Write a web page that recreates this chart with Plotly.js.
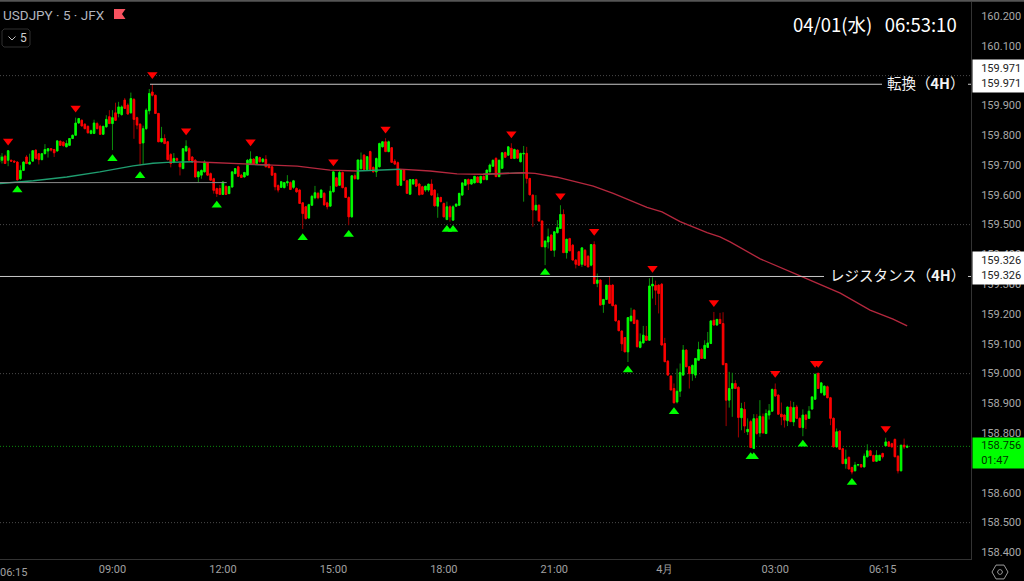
<!DOCTYPE html>
<html><head><meta charset="utf-8">
<script src="https://cdn.plot.ly/plotly-3.0.1.min.js"></script>
<style>html,body{margin:0;padding:0;background:#000;overflow:hidden}</style>
</head><body><div id="chart" style="width:1024px;height:581px"></div>
<script>
// bars: [open, high, low, close] — first bar index is -4 (05:55), 06:15 is index 0
const barsMorning = [
[159.710,159.733,159.710,159.733],[159.716,159.740,159.705,159.727],[159.730,159.735,159.705,159.705],[159.716,159.750,159.696,159.748],
[159.716,159.718,159.712,159.713],[159.713,159.716,159.708,159.710],[159.710,159.712,159.649,159.650],[159.654,159.699,159.650,159.682],
[159.682,159.712,159.682,159.710],[159.727,159.733,159.703,159.705],[159.703,159.738,159.702,159.710],[159.713,159.750,159.712,159.748],
[159.750,159.752,159.718,159.722],[159.738,159.740,159.702,159.718],[159.718,159.740,159.716,159.738],[159.738,159.770,159.736,159.752],
[159.747,159.756,159.725,159.755],[159.755,159.757,159.745,159.750],[159.752,159.754,159.727,159.741],[159.747,159.783,159.746,159.781],
[159.780,159.782,159.765,159.766],[159.777,159.779,159.762,159.765],[159.761,159.783,159.760,159.772],[159.766,159.790,159.764,159.789],
[159.789,159.802,159.787,159.800],[159.800,159.859,159.800,159.841],[159.841,159.858,159.838,159.856],[159.850,159.853,159.830,159.831],
[159.837,159.840,159.820,159.822],[159.830,159.832,159.806,159.808],[159.806,159.819,159.803,159.815],[159.806,159.852,159.805,159.841],
[159.839,159.845,159.820,159.822],[159.830,159.835,159.802,159.803],[159.803,159.830,159.803,159.830],[159.828,159.867,159.826,159.853],
[159.862,159.884,159.838,159.839],[159.839,159.884,159.750,159.859],[159.875,159.909,159.848,159.850],[159.873,159.912,159.860,159.895],
[159.869,159.900,159.866,159.895],[159.918,159.925,159.888,159.890],[159.901,159.907,159.870,159.871],[159.875,159.943,159.873,159.923],
[159.920,159.925,159.788,159.853],[159.859,159.862,159.820,159.834],[159.837,159.840,159.698,159.772],[159.774,159.832,159.703,159.822],
[159.822,159.890,159.818,159.884],[159.882,159.955,159.870,159.940],[159.945,159.971,159.930,159.934],[159.934,159.936,159.872,159.873],
[159.873,159.875,159.777,159.778],[159.778,159.828,159.776,159.789],[159.789,159.803,159.770,159.772],[159.778,159.780,159.716,159.718],
[159.735,159.740,159.692,159.705],[159.710,159.740,159.706,159.722],[159.722,159.725,159.714,159.716],[159.705,159.708,159.665,159.694],
[159.688,159.755,159.686,159.755],[159.747,159.783,159.745,159.763],[159.755,159.760,159.714,159.716],[159.727,159.730,159.708,159.710],
[159.716,159.720,159.658,159.660],[159.660,159.677,159.643,159.677],[159.666,159.685,159.654,159.682],[159.677,159.716,159.675,159.710],
[159.707,159.710,159.665,159.666],[159.671,159.675,159.648,159.649],[159.654,159.657,159.604,159.615],[159.621,159.624,159.593,159.604],
[159.621,159.633,159.600,159.601],[159.601,159.645,159.600,159.643],[159.628,159.632,159.600,159.601],[159.604,159.630,159.603,159.628],
[159.626,159.677,159.625,159.677],[159.671,159.690,159.670,159.688],[159.694,159.698,159.661,159.662],[159.666,159.670,159.657,159.658],
[159.660,159.677,159.658,159.675],[159.666,159.720,159.665,159.716]];
const barsAfternoon = [
[159.705,159.746,159.703,159.720],[159.720,159.722,159.702,159.703],[159.705,159.729,159.700,159.728],[159.725,159.728,159.709,159.711],
[159.711,159.723,159.709,159.720],[159.719,159.733,159.693,159.694],[159.702,159.705,159.690,159.691],[159.694,159.696,159.665,159.666],
[159.672,159.674,159.615,159.627],[159.631,159.635,159.608,159.616],[159.625,159.645,159.623,159.644],[159.624,159.642,159.622,159.641],
[159.640,159.666,159.629,159.644],[159.641,159.645,159.616,159.618],[159.625,159.650,159.620,159.647],[159.621,159.625,159.607,159.610],
[159.616,159.620,159.570,159.571],[159.573,159.575,159.485,159.537],[159.560,159.562,159.518,159.520],[159.522,159.570,159.520,159.567],
[159.565,159.600,159.563,159.595],[159.590,159.630,159.585,159.607],[159.605,159.610,159.585,159.590],[159.591,159.618,159.589,159.616],
[159.605,159.609,159.565,159.566],[159.573,159.577,159.551,159.560],[159.562,159.630,159.560,159.612],[159.610,159.680,159.608,159.677],
[159.657,159.660,159.628,159.629],[159.632,159.680,159.630,159.675],[159.675,159.678,159.622,159.624],[159.624,159.627,159.590,159.591],
[159.591,159.595,159.498,159.526],[159.526,159.665,159.524,159.664],[159.664,159.672,159.650,159.655],[159.653,159.717,159.651,159.717],
[159.688,159.742,159.680,159.717],[159.733,159.737,159.684,159.685],[159.685,159.730,159.683,159.728],[159.745,159.748,159.683,159.685],
[159.692,159.695,159.675,159.677],[159.677,159.725,159.660,159.722],[159.694,159.775,159.692,159.772],[159.761,159.780,159.759,159.778],
[159.778,159.790,159.744,159.745],[159.745,159.782,159.743,159.778],[159.758,159.760,159.708,159.709],[159.713,159.720,159.701,159.703],
[159.708,159.712,159.631,159.632],[159.632,159.685,159.630,159.685],[159.683,159.685,159.648,159.649],[159.647,159.650,159.604,159.605],
[159.602,159.652,159.600,159.651],[159.636,159.652,159.634,159.651],[159.651,159.654,159.628,159.629],[159.636,159.640,159.599,159.600],
[159.627,159.630,159.601,159.602],[159.616,159.630,159.610,159.629],[159.616,159.636,159.610,159.636],[159.636,159.652,159.598,159.599],
[159.616,159.619,159.561,159.563],[159.562,159.605,159.523,159.591],[159.591,159.594,159.575,159.577],[159.571,159.574,159.525,159.526],
[159.517,159.577,159.515,159.560],[159.560,159.565,159.510,159.526],[159.515,159.565,159.513,159.560],[159.562,159.570,159.560,159.569],
[159.565,159.606,159.563,159.605],[159.599,159.641,159.597,159.640],[159.632,159.652,159.630,159.651],[159.651,159.655,159.616,159.636],
[159.636,159.652,159.634,159.651],[159.640,159.663,159.639,159.662],[159.660,159.662,159.640,159.642],[159.640,159.663,159.638,159.662],
[159.662,159.665,159.650,159.651],[159.651,159.684,159.649,159.683],[159.677,159.705,159.675,159.700],[159.696,159.718,159.694,159.716],
[159.722,159.727,159.660,159.661],[159.661,159.718,159.659,159.716]];
const barsEvening = [
[159.689,159.743,159.687,159.741],[159.742,159.745,159.725,159.726],[159.733,159.762,159.731,159.761],[159.756,159.773,159.722,159.722],
[159.722,159.755,159.720,159.752],[159.750,159.752,159.722,159.723],[159.711,159.741,159.709,159.739],[159.737,159.764,159.577,159.739],
[159.739,159.761,159.638,159.655],[159.655,159.657,159.599,159.600],[159.599,159.601,159.493,159.549],[159.549,159.599,159.547,159.565],
[159.565,159.568,159.511,159.512],[159.512,159.515,159.425,159.426],[159.425,159.446,159.364,159.445],[159.442,159.487,159.420,159.459],
[159.465,159.468,159.414,159.414],[159.414,159.476,159.392,159.476],[159.473,159.515,159.470,159.490],[159.487,159.565,159.485,159.534],
[159.534,159.551,159.405,159.406],[159.406,159.452,159.386,159.451],[159.453,159.456,159.412,159.412],[159.431,159.435,159.381,159.381],
[159.381,159.384,159.353,159.367],[159.409,159.412,159.362,159.364],[159.367,159.422,159.358,159.422],[159.414,159.418,159.364,159.364],
[159.394,159.397,159.358,159.358],[159.364,159.434,159.360,159.433],[159.433,159.444,159.302,159.302],
[159.303,159.336,159.290,159.314],[159.314,159.316,159.230,159.230],[159.232,159.250,159.204,159.249],[159.249,159.297,159.247,159.297],
[159.297,159.325,159.235,159.236],[159.297,159.300,159.226,159.228],[159.230,159.232,159.175,159.177],[159.177,159.180,159.143,159.144],
[159.143,159.145,159.076,159.100],[159.121,159.123,159.073,159.073],[159.073,159.190,159.039,159.188],[159.177,159.221,159.175,159.193],
[159.213,159.215,159.167,159.168],[159.179,159.181,159.090,159.090],[159.088,159.135,159.085,159.107],[159.103,159.160,159.101,159.129],
[159.126,159.160,159.110,159.112],[159.112,159.320,159.110,159.294],[159.294,159.323,159.252,159.300],[159.296,159.312,159.230,159.280],
[159.297,159.300,159.202,159.269],[159.300,159.304,159.095,159.096]];
const barsNight = [
[159.101,159.120,159.040,159.040],[159.042,159.045,158.995,158.995],[158.992,158.995,158.945,158.945],[158.950,158.967,158.901,158.902],
[158.905,159.017,158.900,158.941],[158.941,159.034,158.922,159.004],[158.995,159.096,158.993,159.079],[159.079,159.082,159.023,159.023],
[159.023,159.025,158.950,159.000],[159.000,159.030,158.976,159.028],[158.995,159.051,158.985,159.051],[159.045,159.107,159.043,159.081],
[159.081,159.085,159.050,159.051],[159.051,159.112,159.049,159.095],[159.088,159.140,159.086,159.103],[159.101,159.178,159.099,159.177],
[159.179,159.207,159.162,159.163],[159.163,159.182,159.161,159.182],[159.182,159.204,159.167,159.168],[159.168,159.206,159.030,159.030],
[159.034,159.036,158.824,158.911],[158.911,159.006,158.886,158.950],[158.950,159.003,158.855,158.967],[158.967,158.978,158.950,158.950],
[158.954,158.958,158.786,158.853],[158.852,158.902,158.810,158.883],[158.880,158.905,158.801,158.824],[158.805,158.850,158.794,158.813],
[158.839,158.845,158.752,158.752],[158.749,158.864,158.747,158.849],[158.849,158.864,158.795,158.799],[158.801,158.911,158.788,158.857],
[158.855,158.866,158.800,158.801],[158.799,158.880,158.797,158.866],[158.861,158.898,158.846,158.875],[158.874,158.950,158.872,158.947],
[158.947,158.967,158.923,158.925],[158.928,158.930,158.864,158.864],[158.864,158.903,158.827,158.855],[158.861,158.865,158.819,158.844],
[158.842,158.889,158.824,158.888],[158.888,158.909,158.838,158.839],[158.838,158.905,158.824,158.886],[158.888,158.895,158.849,158.850],
[158.850,158.853,158.818,158.819],[158.819,158.880,158.790,158.861],[158.861,158.865,158.814,158.846],[158.850,158.891,158.848,158.874],
[158.881,158.923,158.879,158.922],[158.914,158.999,158.912,158.998],[159.001,159.003,158.950,158.950],[158.936,158.970,158.934,158.969],
[158.928,158.960,158.926,158.958],[158.956,158.960,158.918,158.919],[158.919,158.922,158.827,158.850],[158.850,158.853,158.755,158.754],
[158.754,158.816,158.752,158.805],[158.807,158.810,158.745,158.746],[158.748,158.751,158.698,158.698],[158.698,158.745,158.681,158.713],
[158.719,158.722,158.679,158.680],[158.685,158.688,158.662,158.670],[158.674,158.704,158.672,158.693],[158.693,158.695,158.689,158.695],
[158.695,158.697,158.684,158.687],[158.687,158.732,158.685,158.723],[158.721,158.763,158.718,158.741],[158.741,158.744,158.725,158.725],
[158.725,158.728,158.705,158.706],[158.706,158.743,158.704,158.726],[158.709,158.727,158.707,158.726],[158.732,158.735,158.715,158.721],
[158.758,158.785,158.756,158.771],[158.771,158.774,158.755,158.756],[158.765,158.768,158.753,158.754],[158.779,158.783,158.720,158.721],
[158.723,158.726,158.665,158.674],[158.674,158.760,158.672,158.760],[158.760,158.782,158.747,158.754],[158.753,158.762,158.750,158.756]];

// moving average: bar index and value
const maIndex = [-3.65,7.2,18.1,28.9,39.7,46.2,50.8,59.3,67.1,76.9,83.7,93.2,103.9,112.7,121.2,126.7,136.5,145.3,153.8,166.9,170.7,177.9,189.7,196.2,207.2,212.1,218,226.8,231,234.3,244.1,257.1,263.6,270.2,279.9,287.4,292];
const maValue = [159.638,159.647,159.660,159.677,159.697,159.706,159.709,159.711,159.707,159.702,159.700,159.696,159.683,159.680,159.683,159.686,159.680,159.670,159.669,159.674,159.672,159.659,159.629,159.605,159.558,159.543,159.510,159.473,159.459,159.442,159.385,159.328,159.300,159.270,159.213,159.183,159.160];
const maGreenSpans = [[-4,59.3],[76.9,83.7],[112.7,126.7],[153.8,166.9]];

// fractal arrows
const downIndex = [-1,21,46,57,78,105,122,163,179,190,209,229,249,262,263,285];
const downPrice = [159.781,159.891,160.004,159.815,159.778,159.711,159.821,159.805,159.597,159.478,159.354,159.239,159.001,159.035,159.035,158.816];
const upIndex = [2,33,42,67,95,110,142,144,174,201,216,241,242,258,274];
const upPrice = [159.616,159.721,159.664,159.565,159.456,159.467,159.484,159.484,159.339,159.012,158.872,158.721,158.721,158.763,158.635];

// levels and labels
const roundLevels = [160.0,159.5,159.0,158.5];
const pivotLevel = 159.971, resistanceLevel = 159.326, supportLevel = 159.641, lastPrice = 158.756;
const priceTicks = [160.2,160.1,159.9,159.8,159.7,159.6,159.5,159.4,159.3,159.2,159.1,159.0,158.9,158.8,158.6,158.5,158.4];
const timeTickIndex = [33,69,105,141,177,213,249,284];
const timeTickText = ['09:00','12:00','15:00','18:00','21:00','4月','03:00','06:15'];
const firstTimeLabel = '06:15';
const symbolText = 'USDJPY · 5 · JFX';
const clockText = '04/01(水)&nbsp;&nbsp;&nbsp;06:53:10';

const bars = barsMorning.concat(barsAfternoon, barsEvening, barsNight);
const barIndex = bars.map((_, k) => k - 4);

const W = 971, T = 2, B = 559;
const inGreen = v => maGreenSpans.some(s => v >= s[0] && v <= s[1]);
const inGreenStrict = v => maGreenSpans.some(s => v > s[0] && v < s[1]);
const maG = maValue.map((v, k) => inGreen(maIndex[k]) ? v : null);
const maR = maValue.map((v, k) => inGreenStrict(maIndex[k]) ? null : v);

const opens = bars.map(b=>b[0]), closes = bars.map(b=>b[3]);
const traces = [
  // wicks (dim) drawn first, bodies (bright) on top
  {type:'candlestick', x:barIndex, open:opens, high:bars.map(b=>b[1]), low:bars.map(b=>b[2]), close:closes,
   increasing:{line:{color:'#0c8f0c',width:1}, fillcolor:'#0c8f0c'},
   decreasing:{line:{color:'#a00000',width:1}, fillcolor:'#a00000'},
   whiskerwidth:0, showlegend:false, hoverinfo:'skip'},
  {type:'candlestick', x:barIndex, open:opens, high:bars.map(b=>Math.max(b[0],b[3])), low:bars.map(b=>Math.min(b[0],b[3])), close:closes,
   increasing:{line:{color:'#00ff00',width:0.8}, fillcolor:'#00ff00'},
   decreasing:{line:{color:'#ff0000',width:0.8}, fillcolor:'#ff0000'},
   whiskerwidth:0, showlegend:false, hoverinfo:'skip'},
  {type:'scatter', mode:'lines', x:maIndex, y:maG, line:{color:'#1f9e70',width:1.4}, hoverinfo:'skip', showlegend:false},
  {type:'scatter', mode:'lines', x:maIndex, y:maR, line:{color:'#b5283e',width:1.3}, hoverinfo:'skip', showlegend:false},
  {type:'scatter', mode:'markers', x:downIndex, y:downPrice, marker:{symbol:'triangle-down',size:9,color:'#ff0000'}, hoverinfo:'skip', showlegend:false},
  {type:'scatter', mode:'markers', x:upIndex, y:upPrice, marker:{symbol:'triangle-up',size:9,color:'#00ff00'}, hoverinfo:'skip', showlegend:false}
];

// pixel path helper (page pixels to shape pixels)
function pix(points, close, style){
  const d = points.map((p,k)=>(k?'L':'M')+p[0]+','+(T-p[1])).join(' ')+(close?' Z':'');
  return Object.assign({type:'path',path:d,xref:'paper',yref:'paper',xsizemode:'pixel',ysizemode:'pixel',xanchor:0,yanchor:1,layer:'above'},style);
}
const hex=[];for(let k=0;k<6;k++){const a=Math.PI/3*k;hex.push([1000+8*Math.cos(a),572+8*Math.sin(a)]);}
const dot=[];for(let k=0;k<10;k++){const a=Math.PI/5*k;dot.push([1000+2.4*Math.cos(a),572+2.4*Math.sin(a)]);}
const pf = (px)=>px/W;
const hline=(lvl,x0,x1,color)=>({type:'line',xref:'paper',yref:'y',x0:x0,x1:x1,y0:lvl,y1:lvl,line:{color:color,width:1},layer:'above'});

const shapes = roundLevels.map(l=>({type:'line',xref:'paper',yref:'y',x0:0,x1:1,y0:l,y1:l,line:{color:'#4a4a4a',width:1,dash:'1px,2px'},layer:'below'}));
shapes.push({type:'line',xref:'paper',yref:'y',x0:0,x1:1,y0:lastPrice,y1:lastPrice,line:{color:'#0c8a0c',width:1,dash:'1px,2px'},layer:'below'});
shapes.push(hline(pivotLevel,pf(150),pf(882),'#c8c8c8'),hline(pivotLevel,pf(968),1,'#c8c8c8'));
shapes.push(hline(resistanceLevel,0,pf(824),'#c8c8c8'),hline(resistanceLevel,pf(968),1,'#c8c8c8'));
shapes.push(hline(supportLevel,0,pf(226.7),'#8a8a8a'));
shapes.push(pix([[0,0.8],[1024,0.8]],false,{line:{color:'#555',width:2}}));
shapes.push(pix([[114,9],[125.5,9],[122,14],[125.5,19],[114,19]],true,{fillcolor:'#f7525f',line:{width:0}}));
shapes.push(pix([[2,31],[4,29],[28,29],[30,31],[30,45],[28,47],[4,47],[2,45]],true,{line:{color:'#2e2e2e',width:1},fillcolor:'rgba(0,0,0,0)'}));
shapes.push(pix([[8.5,36.5],[12,40],[15.5,36.5]],false,{line:{color:'#c0c0c0',width:1}}));
shapes.push(pix(hex,true,{line:{color:'#9a9a9a',width:1}}));
shapes.push(pix(dot,true,{line:{color:'#9a9a9a',width:1}}));

const cjk = '"Noto Sans CJK JP", "Noto Sans", sans-serif';
const annPix=(xpx,ypx,text,size,color,anchor,extra)=>Object.assign({xref:'paper',yref:'paper',x:xpx/W,y:1-(ypx-T)/(B-T),text:text,showarrow:false,xanchor:anchor,yanchor:'middle',font:{family:cjk,size:size,color:color}},extra||{});
const sideBox=(ypx,h,bg,text,color)=>({xref:'paper',yref:'paper',x:(972)/W,y:1-(ypx-T)/(B-T),xanchor:'left',yanchor:'middle',showarrow:false,
  text:text,align:'left',bgcolor:bg,width:52,height:h,borderpad:0,font:{family:'Roboto',size:11,color:color}});

const annotations = [
  annPix(1,15,symbolText,13.5,'#b2b5be','left',{font:{family:'Roboto',size:13.5,color:'#b2b5be'}}),
  annPix(23,38,'5',11,'#d0d0d0','center',{font:{family:'Roboto',size:12,color:'#d0d0d0'}}),
  annPix(875,23.5,clockText,18.5,'#ffffff','center'),
  annPix(967,82.5,'転換（<b>4H</b>）',14.5,'#f4f4f4','right'),
  annPix(967,274.5,'レジスタンス（<b>4H</b>）',14.5,'#f4f4f4','right'),
  annPix(13,572,firstTimeLabel,11,'#a0a0a0','center',{font:{family:'Roboto',size:11,color:'#a0a0a0'}}),
  sideBox(76,32,'#ffffff','&nbsp;&nbsp;&nbsp;159.971<br>&nbsp;&nbsp;&nbsp;159.971','#222222'),
  sideBox(268,32,'#ffffff','&nbsp;&nbsp;&nbsp;159.326<br>&nbsp;&nbsp;&nbsp;159.326','#222222'),
  sideBox(453,30,'#00ff00','&nbsp;&nbsp;&nbsp;158.756<br>&nbsp;&nbsp;&nbsp;01:47','#003300')
];

const layout = {
  width:1024, height:581, margin:{l:0,r:53,t:T,b:581-B,pad:0},
  paper_bgcolor:'#000000', plot_bgcolor:'#000000', showlegend:false, dragmode:false,
  xaxis:{range:[-3.65,312.8],rangeslider:{visible:false},tickmode:'array',tickvals:timeTickIndex,ticktext:timeTickText,
    showgrid:false,zeroline:false,ticks:'',showline:true,linecolor:'#333333',linewidth:1,
    tickfont:{family:'Roboto',size:11,color:'#a0a0a0'}},
  yaxis:{range:[158.378,160.247],side:'right',tickmode:'array',tickvals:priceTicks,ticktext:priceTicks.map(v=>v.toFixed(3)),showgrid:false,zeroline:false,ticks:'',
    ticklabelstandoff:7,showline:true,linecolor:'#333333',linewidth:1,tickfont:{family:'Roboto',size:11,color:'#a8a8a8'}},
  shapes:shapes, annotations:annotations, hovermode:false
};
Plotly.newPlot('chart',traces,layout,{displayModeBar:false,staticPlot:true});
</script></body></html>
